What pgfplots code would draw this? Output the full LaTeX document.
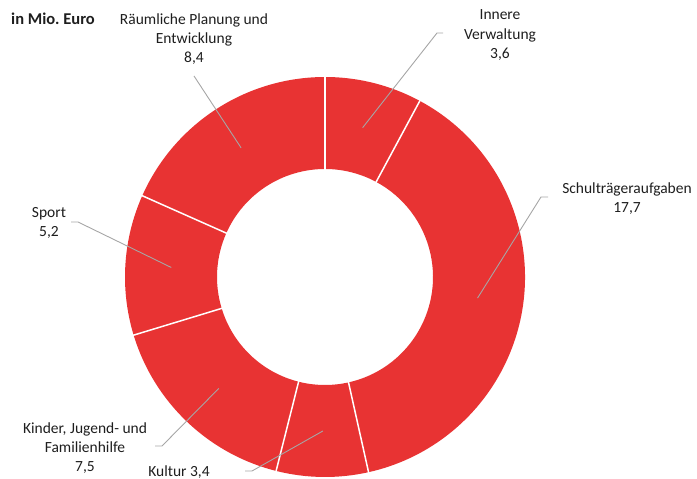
\documentclass[border=0pt]{standalone}
\usepackage{pgfplots}
\pgfplotsset{compat=1.18}
\usepackage{pgfplotstable}
\usepackage{fontspec}
\setmainfont{Carlito}
\frenchspacing
\definecolor{pie}{RGB}{232,51,51}
\definecolor{lead}{RGB}{166,166,166}
\definecolor{txt}{RGB}{30,30,30}
\tikzset{lbl/.style={inner sep=0pt,text=txt,anchor=base,font=\fontsize{15.5}{19}\selectfont}}

% values, clockwise from 12 o'clock
\pgfplotstableread{
value
3.6
17.7
3.4
7.5
5.2
8.4
}\datatable

\begin{document}
\begin{tikzpicture}
\xdef\total{0}
\foreach \i in {0,...,5}{
  \pgfplotstablegetelem{\i}{value}\of\datatable
  \pgfmathparse{\total+\pgfplotsretval}\xdef\total{\pgfmathresult}
}
\xdef\cum{0}
\foreach \i in {0,...,5}{
  \pgfplotstablegetelem{\i}{value}\of\datatable
  \pgfmathsetmacro\aS{90-360*(\cum/\total)}
  \pgfmathparse{\cum+\pgfplotsretval}\xdef\cum{\pgfmathresult}
  \pgfmathsetmacro\aE{90-360*(\cum/\total)}
  \pgfmathsetmacro\aM{(\aS+\aE)/2}
  \expandafter\xdef\csname aS\i\endcsname{\aS}
  \expandafter\xdef\csname aE\i\endcsname{\aE}
  \expandafter\xdef\csname aM\i\endcsname{\aM}
}
\begin{axis}[x=1pt,y=1pt,xmin=0,xmax=697,ymin=0,ymax=479,hide axis,scale only axis,clip=false]
\path (axis cs:0,0) rectangle (axis cs:697,479);
\pgfplotsinvokeforeach{0,...,5}{
  \fill[pie] (axis cs:{325+200*cos(\csname aS#1\endcsname)},{202+200*sin(\csname aS#1\endcsname)})
    arc[start angle=\csname aS#1\endcsname,end angle=\csname aE#1\endcsname,radius=200pt]
    -- (axis cs:{325+108*cos(\csname aE#1\endcsname)},{202+108*sin(\csname aE#1\endcsname)})
    arc[start angle=\csname aE#1\endcsname,end angle=\csname aS#1\endcsname,radius=108pt] -- cycle;
}
\pgfplotsinvokeforeach{0,...,5}{
  \draw[white,line width=1.5pt] (axis cs:{325+107*cos(\csname aS#1\endcsname)},{202+107*sin(\csname aS#1\endcsname)})
    -- (axis cs:{325+201*cos(\csname aS#1\endcsname)},{202+201*sin(\csname aS#1\endcsname)});
}
% leader lines
\draw[lead,line width=0.9pt] (axis cs:443,446) -- (axis cs:437,446) -- (axis cs:{325+154*cos(\csname aM0\endcsname)},{202+154*sin(\csname aM0\endcsname)});
\draw[lead,line width=0.9pt] (axis cs:548,282) -- (axis cs:541,282) -- (axis cs:{325+154*cos(\csname aM1\endcsname)},{202+154*sin(\csname aM1\endcsname)});
\draw[lead,line width=0.9pt] (axis cs:245,8) -- (axis cs:252,8) -- (axis cs:{325+154*cos(\csname aM2\endcsname)},{202+154*sin(\csname aM2\endcsname)});
\draw[lead,line width=0.9pt] (axis cs:155,33) -- (axis cs:162,33) -- (axis cs:{325+154*cos(\csname aM3\endcsname)},{202+154*sin(\csname aM3\endcsname)});
\draw[lead,line width=0.9pt] (axis cs:71,257) -- (axis cs:78,257) -- (axis cs:{325+154*cos(\csname aM4\endcsname)},{202+154*sin(\csname aM4\endcsname)});
\draw[lead,line width=0.9pt] (axis cs:194,403) -- (axis cs:{325+154*cos(\csname aM5\endcsname)},{202+154*sin(\csname aM5\endcsname)});
% labels
\node[lbl,anchor=base west,font=\fontsize{16.5}{19}\selectfont\bfseries] at (axis cs:11,454) {in Mio. Euro};
\node[lbl] at (axis cs:194,454.5) {Räumliche Planung und};
\node[lbl] at (axis cs:194,435.5) {Entwicklung};
\node[lbl] at (axis cs:194,416) {8,4};
\node[lbl] at (axis cs:500,459.5) {Innere};
\node[lbl] at (axis cs:500,439.5) {Verwaltung};
\node[lbl] at (axis cs:500,420.5) {3,6};
\node[lbl] at (axis cs:627,285.5) {Schulträgeraufgaben};
\node[lbl] at (axis cs:627,266) {17,7};
\node[lbl] at (axis cs:49,261.5) {Sport};
\node[lbl] at (axis cs:49,242) {5,2};
\node[lbl] at (axis cs:85,45.5) {Kinder, Jugend- und};
\node[lbl] at (axis cs:85,26.5) {Familienhilfe};
\node[lbl] at (axis cs:85,7) {7,5};
\node[lbl] at (axis cs:179,2.5) {Kultur 3,4};
\end{axis}
\end{tikzpicture}
\end{document}
